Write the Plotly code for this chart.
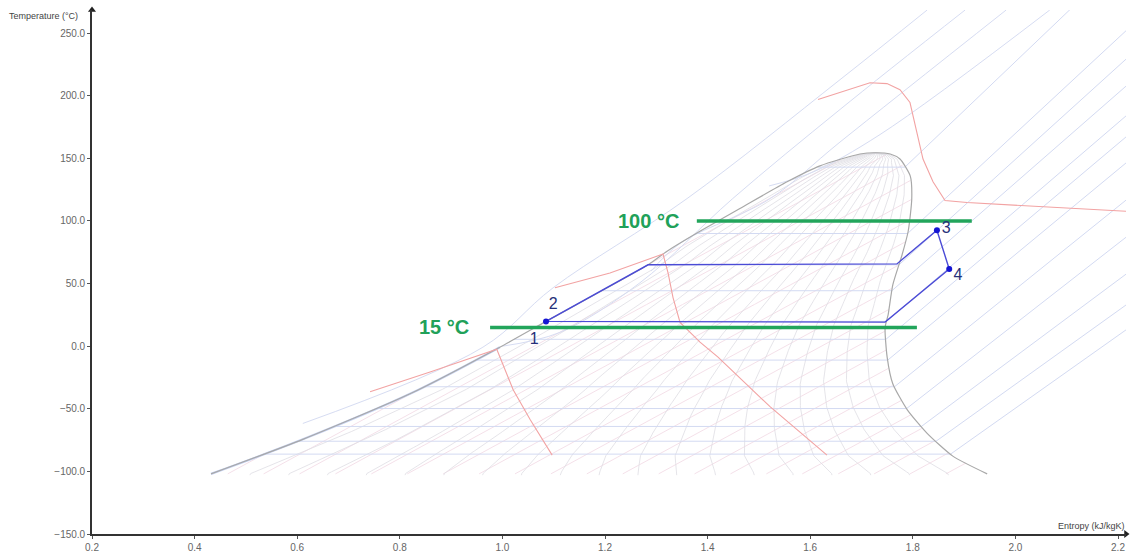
import numpy as np
import plotly.graph_objects as go

# ---- saturation dome of the working fluid (entropy kJ/kgK, temperature °C)
LIQ_S = [0.432, 0.611, 0.820, 0.995, 1.085, 1.284, 1.321, 1.385, 1.463, 1.555, 1.619, 1.697, 1.728]
LIQ_T = [-102.0, -74.4, -38.0, -0.8, 19.8, 65.0, 75.9, 91.8, 110.0, 131.3, 144.0, 153.5, 154.5]
VAP_S = [1.728, 1.756, 1.775, 1.795, 1.798, 1.791, 1.779, 1.761, 1.752, 1.746, 1.750, 1.761, 1.789, 1.828, 1.878, 1.945]
VAP_T = [154.5, 153.5, 149.5, 136.0, 118.0, 91.8, 72.8, 49.0, 25.3, 15.0, -8.7, -30.0, -50.6, -69.6, -87.8, -102.0]

# ---- vapour quality lines
QUALITIES = [0.05, 0.10, 0.15, 0.20, 0.25, 0.30, 0.35, 0.40, 0.45, 0.50,
             0.55, 0.60, 0.65, 0.70, 0.75, 0.80, 0.85, 0.90, 0.95]

# ---- isobars: saturation temperature and temperature where they leave at s = 2.25
ISOBAR_TSAT = [-86.2, -75.9, -64.1, -49.8, -32.4, -11.1, 5.5, 19.8, 44.3, 65.0, 90.0, 143.0]
ISOBAR_TEND = [23.0, 43.0, 68.0, 98.0, 128.0, 158.0, 179.0, 196.0, 220.0, 242.0, 265.0, 325.0]
ISOBAR_SEND = 2.25

# ---- supercritical isobars (pass over the dome)
SC_LINES = [
    ([0.611, 0.962, 1.099, 1.360, 1.658, 1.828], [-61.7, -0.8, 46.7, 117.9, 212.8, 268.5]),
    ([1.000, 1.112, 1.268, 1.449, 1.658, 1.902], [0.0, 11.0, 50.6, 117.9, 189.0, 268.5]),
    ([1.290, 1.346, 1.522, 1.658, 1.982], [60.0, 82.0, 117.9, 163.0, 268.5]),
    ([1.520, 1.605, 1.736, 2.067], [128.0, 139.0, 169.0, 268.5]),
]

# ---- isochores in the two-phase region: start entropy at the dome bottom
ISOCHORE_S0 = [0.46, 0.53, 0.60, 0.67, 0.74, 0.81, 0.88, 0.95, 1.02, 1.09, 1.16, 1.23,
               1.30, 1.37, 1.44, 1.51, 1.58, 1.65, 1.72, 1.79, 1.86]
ISOCHORE_T0 = -103.0
ISOCHORE_SLOPE = 223.0  # °C per kJ/kgK

# ---- isenthalps
H_LINES = [
    ([0.742, 0.859, 0.989, 0.995, 1.021, 1.054, 1.097],
     [-36.4, -20.6, -2.4, -8.7, -34.8, -58.5, -87.0]),
    ([1.1025, 1.2097, 1.3131, 1.3229, 1.3326, 1.3463, 1.3852, 1.4203, 1.5217, 1.6327],
     [46.7, 58.5, 73.6, 58.5, 38.8, 19.0, 3.2, -8.7, -48.3, -87.0]),
    ([1.6152, 1.6639, 1.7166, 1.7497, 1.7750, 1.7945, 1.8082, 1.8199, 1.8394, 1.8628,
      1.9057, 2.0343, 2.2234],
     [197.0, 203.3, 210.4, 209.7, 204.9, 194.6, 170.9, 149.5, 131.3, 116.3, 114.7, 111.6, 107.6]),
]

# ---- ORC cycle states
CYCLE_S = [1.085, 1.284, 1.769, 1.847, 1.871, 1.746, 1.085]
CYCLE_T = [19.8, 65.0, 65.7, 92.6, 61.7, 19.2, 19.8]
STATE_S = [1.085, 1.847, 1.871]
STATE_T = [19.8, 92.6, 61.7]
STATE_LABELS = ["1", "2", "3", "4"]
STATE_LABEL_S = [1.062, 1.099, 1.865, 1.888]
STATE_LABEL_T = [5.0, 33.2, 93.4, 56.2]

# ---- source / sink temperature lines
HOT_T, HOT_S = 100.0, [1.379, 1.915]
COLD_T, COLD_S = 15.0, [0.976, 1.808]

X_RANGE = [0.2, 2.2156]
Y_RANGE = [-150.0, 268.5]


def s_liq(t):
    return np.interp(t, LIQ_T, LIQ_S)


def s_vap(t):
    return np.interp(t, VAP_T[::-1], VAP_S[::-1])


dome_x = np.array(LIQ_S + VAP_S[1:])
dome_y = np.array(LIQ_T + VAP_T[1:])


def inside_dome(px, py):
    res = np.zeros(len(px), dtype=bool)
    n = len(dome_x)
    j = n - 1
    for i in range(n):
        xi, yi, xj, yj = dome_x[i], dome_y[i], dome_x[j], dome_y[j]
        cond = ((yi > py) != (yj > py)) & (px < (xj - xi) * (py - yi) / (yj - yi + 1e-12) + xi)
        res ^= cond
        j = i
    return res


def joined(lines):
    xs, ys = [], []
    for lx, ly in lines:
        xs += list(lx) + [None]
        ys += list(ly) + [None]
    return xs, ys


def faint(x, y, color, width=1.0, shape="linear"):
    return go.Scatter(x=x, y=y, mode="lines", line=dict(color=color, width=width, shape=shape),
                      hoverinfo="skip", showlegend=False)


fig = go.Figure()

# isochores clipped to the dome
iso_lines = []
for s0 in ISOCHORE_S0:
    ss = np.linspace(s0, s0 + 1.6, 700)
    tt = ISOCHORE_T0 + ISOCHORE_SLOPE * (ss - s0)
    m = inside_dome(ss, tt)
    iso_lines.append(([float(a) if k else None for a, k in zip(ss, m)], list(tt)))
x, y = joined(iso_lines)
fig.add_trace(faint(x, y, "#f3dce6", 0.9))

# quality lines
tq = np.linspace(-103.0, 154.5, 200)
q_lines = []
for q in QUALITIES:
    sl, sv = s_liq(np.maximum(tq, -102.0)), s_vap(np.maximum(tq, -102.0))
    q_lines.append((sl + q * (sv - sl), tq))
x, y = joined(q_lines)
fig.add_trace(faint(x, y, "#dedde3", 0.8))

# isobars: two-phase part and superheated part
p_lines = []
for ts, te in zip(ISOBAR_TSAT, ISOBAR_TEND):
    p_lines.append(([float(s_liq(ts)), float(s_vap(ts)), ISOBAR_SEND], [ts, ts, te]))
x, y = joined(p_lines)
fig.add_trace(faint(x, y, "#d3daf2", 1.0))

x, y = joined(SC_LINES)
fig.add_trace(faint(x, y, "#d6dcf2", 1.0, "spline"))

# compressed-liquid isobars bunched on the liquid line
low = [i for i, t in enumerate(LIQ_T) if t <= 0]
fig.add_trace(faint([LIQ_S[i] for i in low], [LIQ_T[i] for i in low], "#c6d2f3", 2.2, "spline"))

# saturation dome
fig.add_trace(go.Scatter(x=list(dome_x), y=list(dome_y), mode="lines",
                         line=dict(color="#a8a8a8", width=1.2, shape="spline", smoothing=0.6),
                         hoverinfo="skip", showlegend=False))

# isenthalps
x, y = joined(H_LINES)
fig.add_trace(faint(x, y, "#f2a3a3", 1.1))

# source / sink temperatures
for t, s in ((HOT_T, HOT_S), (COLD_T, COLD_S)):
    fig.add_trace(faint(s, [t, t], "#22a55b", 3.5))

# cycle
fig.add_trace(faint(CYCLE_S, CYCLE_T, "#4b4bd6", 1.4))
fig.add_trace(go.Scatter(x=STATE_S, y=STATE_T, mode="markers",
                         marker=dict(color="#1414d2", size=6), hoverinfo="skip", showlegend=False))
fig.add_trace(go.Scatter(x=STATE_LABEL_S, y=STATE_LABEL_T, mode="text", text=STATE_LABELS,
                         textfont=dict(family="Liberation Sans", size=16, color="#263079"),
                         hoverinfo="skip", showlegend=False))

# axis arrow heads
fig.add_trace(go.Scatter(x=[X_RANGE[0]], y=[Y_RANGE[1]], mode="markers", cliponaxis=False,
                         marker=dict(symbol="triangle-up", size=7, color="#222"),
                         hoverinfo="skip", showlegend=False))
fig.add_trace(go.Scatter(x=[X_RANGE[1]], y=[Y_RANGE[0]], mode="markers", cliponaxis=False,
                         marker=dict(symbol="triangle-right", size=7, color="#222"),
                         hoverinfo="skip", showlegend=False))

green_font = dict(family="Liberation Sans", size=20, color="#21a159")
annotations = [
    dict(x=1.348, y=HOT_T, xref="x", yref="y", text="<b>100 °C</b>", showarrow=False,
         xanchor="right", yanchor="middle", font=green_font),
    dict(x=0.939, y=COLD_T, xref="x", yref="y", text="<b>15 °C</b>", showarrow=False,
         xanchor="right", yanchor="middle", font=green_font),
    dict(x=-0.0822, y=0.9887, xref="paper", yref="paper", text="Temperature (°C)", showarrow=False,
         xanchor="left", yanchor="middle", font=dict(family="Liberation Sans", size=9, color="#444")),
    dict(x=1.001, y=0.0151, xref="paper", yref="paper", text="Entropy (kJ/kgK)", showarrow=False,
         xanchor="right", yanchor="middle", font=dict(family="Liberation Sans", size=9, color="#444")),
]

axis_common = dict(showline=True, linecolor="#333", linewidth=1.6, showgrid=False, zeroline=False,
                   ticks="outside", ticklen=3, tickcolor="#555", tickformat=".1f",
                   tickfont=dict(family="Liberation Sans", size=10, color="#666"))
fig.update_layout(
    width=1132, height=559,
    margin=dict(l=92, r=6, t=10, b=20),
    paper_bgcolor="white", plot_bgcolor="white",
    xaxis=dict(range=X_RANGE, tick0=0.2, dtick=0.2, **axis_common),
    yaxis=dict(range=Y_RANGE, tick0=-150, dtick=50, **axis_common),
    annotations=annotations,
)
fig.write_html("out.html")
